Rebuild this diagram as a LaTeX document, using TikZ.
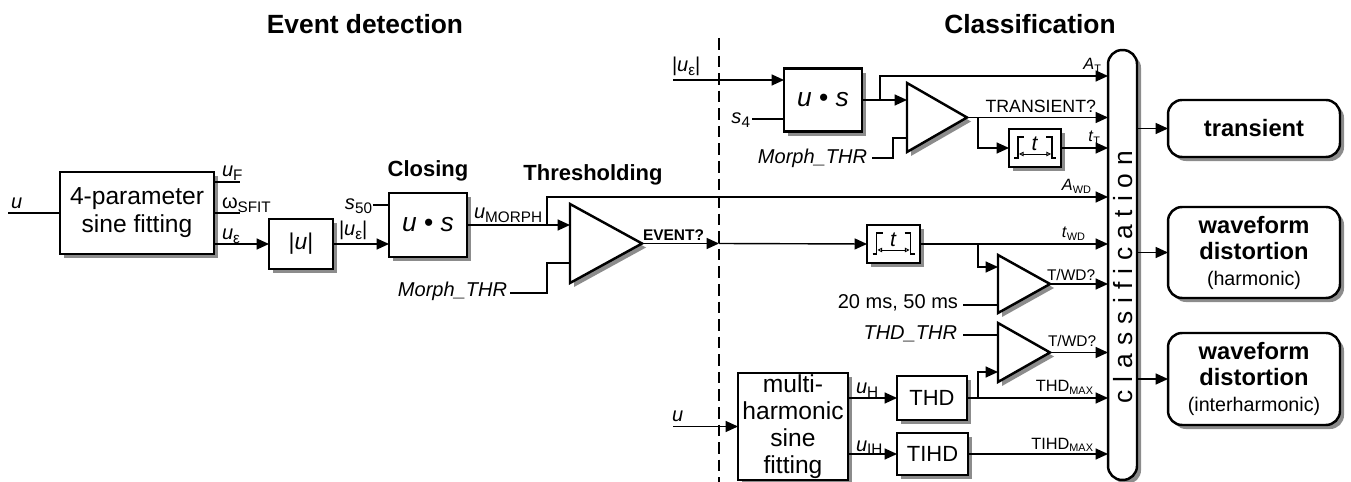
\documentclass[tikz,border=0pt]{standalone}
\usepackage{fontspec}
\setmainfont{Liberation Sans}
\newfontfamily\spacedfont[LetterSpace=30]{Liberation Sans}
\usetikzlibrary{arrows.meta,shadows,calc}
\newcommand\fs[2]{\fontsize{#1}{#2}\selectfont}
\newcommand\lsub[1]{\raisebox{-1.8pt}{\fontsize{8.7pt}{9pt}\selectfont #1}}
\newcommand\ssub[1]{\raisebox{-1.3pt}{\fontsize{6.2pt}{7pt}\selectfont #1}}
\newcommand\amp[5]{%
  \begin{scope}[shift={(4,4)}]
    \fill[black!45] (#2,#3) -- (#2,#4) -- (#5,{(#3+#4)/2}) -- cycle;
  \end{scope}
  \draw[line width=1.4pt, fill=white, line join=miter] (#2,#3) -- (#2,#4) -- (#5,{(#3+#4)/2}) -- cycle;
  \coordinate (#1out) at (#5,{(#3+#4)/2});
}
\newcommand\timerglyph[1]{%
  \begin{scope}[shift={(#1.center)}]
    \draw[line width=0.6pt] (-21,10) -- (-17,10) -- (-17,-11) -- (-11,-11);
    \draw[line width=0.6pt] (11,-11) -- (17,-11) -- (17,10) -- (21,10);
    \draw[line width=0.5pt, {Triangle[open,length=2.6pt,width=2.6pt]}-{Triangle[open,length=2.6pt,width=2.6pt]}] (-16,6) -- (16,6);
    \node[font=\fs{12pt}{13pt}] at (0,-4) {\textit{t}};
  \end{scope}
}
\tikzset{
  every node/.style={inner sep=0pt, outer sep=0pt},
  conn/.style={line width=0.8pt},
  arr/.style={conn, -{Triangle[length=7pt,width=6.2pt]}},
  blk/.style={draw, line width=1.4pt, fill=white, align=center,
    drop shadow={shadow xshift=2.3pt, shadow yshift=-2.3pt, fill=black!45, opacity=1}},
  rblk/.style={blk, rounded corners=8pt},
  lbl/.style={font=\fs{11.4pt}{13pt}},
  slbl/.style={font=\fs{9.3pt}{10pt}},
  evlbl/.style={font=\bfseries\fs{8.8pt}{10pt}},
  twlbl/.style={font=\fs{8.8pt}{10pt}},
  trlbl/.style={font=\fs{10.1pt}{11pt}},
  bigtitle/.style={font=\bfseries\fs{15pt}{17pt}},
  midtitle/.style={font=\bfseries\fs{12.5pt}{14pt}},
}
\begin{document}
\begin{tikzpicture}[x=0.02cm,y=-0.02cm]
\useasboundingbox (0,0) rectangle (1351,482);

% titles
\node[bigtitle, anchor=base] at (365,34) {Event detection};
\node[bigtitle, anchor=base] at (1030,34) {Classification};
\node[midtitle, anchor=base] at (428,177) {Closing};
\node[midtitle, anchor=base] at (593,181) {Thresholding};

% dashed separator
\draw[conn, dash pattern=on 6.6pt off 3.4pt] (719,38) -- (719,482);

% blocks
\node[blk, minimum width=3.08cm, minimum height=1.64cm, font=\fs{14pt}{16pt}] (fit4) at (137,213) {4-parameter\\sine fitting};
\node[blk, minimum width=1.28cm, minimum height=1.0cm, font=\fs{13pt}{15pt}] (absu) at (301,244) {|\textit{u}|};
\node[blk, minimum width=1.56cm, minimum height=1.28cm, font=\fs{15pt}{17pt}] (close) at (428,225) {\textit{u} • \textit{s}};
\node[blk, minimum width=1.56cm, minimum height=1.26cm, font=\fs{15pt}{17pt}] (close2) at (823,100) {\textit{u} • \textit{s}};
\node[blk, minimum width=1.04cm, minimum height=0.76cm] (timer1) at (1035,148) {};
\node[blk, minimum width=1.06cm, minimum height=0.76cm] (timer2) at (893.5,244) {};
\timerglyph{timer1}
\timerglyph{timer2}
\node[blk, minimum width=2.2cm, minimum height=2.14cm, font=\fs{14pt}{15.4pt}] (multi) at (793,426.5) {multi-\\harmonic\\sine\\fitting};
\node[blk, minimum width=1.4cm, minimum height=0.88cm, font=\fs{12.5pt}{14pt}] (thd) at (932,398) {THD};
\node[blk, minimum width=1.42cm, minimum height=0.84cm, font=\fs{12.5pt}{14pt}] (tihd) at (932.5,454) {TIHD};
\node[rblk, minimum width=0.58cm, minimum height=8.6cm] (bar) at (1122.5,265) {};
\node[rotate=90, font=\spacedfont\fs{15pt}{17pt}] at (1123,277) {classification};
\node[rblk, minimum width=3.44cm, minimum height=1.14cm, font=\bfseries\fs{13.5pt}{15pt}] (out1) at (1254,128.5) {transient};
\node[rblk, minimum width=3.44cm, minimum height=1.82cm, font=\bfseries\fs{13.5pt}{14.8pt}] (out2) at (1254,252.5) {waveform\\distortion\\{\normalfont\fs{11.2pt}{14.8pt}(harmonic)}};
\node[rblk, minimum width=3.44cm, minimum height=1.84cm, font=\bfseries\fs{13.5pt}{14.8pt}] (out3) at (1254,379) {waveform\\distortion\\{\normalfont\fs{11.2pt}{14.8pt}(interharmonic)}};

% amplifiers (comparators)
\amp{ta}{570}{204}{283}{642}
\amp{tb}{907}{83}{152}{967}
\amp{tc}{998}{255}{313}{1050}
\amp{td}{998}{323}{382}{1050}

% ---- event detection part
\coordinate (uin) at (8,213);
\draw[conn] (uin) -- (fit4.west);
\node[lbl, anchor=base west] at (11,209) {\textit{u}};
\coordinate (uFe) at (240,182);
\draw[conn] (fit4.east |- uFe) -- (uFe);
\node[lbl, anchor=base west] at (222,177) {\textit{u}\lsub{F}};
\coordinate (wse) at (240,213);
\draw[conn] (fit4.east |- wse) -- (wse);
\node[lbl, anchor=base west] at (222,209) {ω\lsub{SFIT}};
\draw[arr] (fit4.east |- absu.west) -- (absu.west);
\node[lbl, anchor=base west] at (222,240) {\textit{u}\lsub{ε}};
\draw[arr] (absu.east) -- (close.west |- absu.east);
\node[lbl, anchor=base west] at (339,236) {|\textit{u}\lsub{ε}|};
\coordinate (s50) at (373,205);
\draw[conn] (s50) -- (s50 -| close.west);
\node[lbl, anchor=base east] at (372,210) {\textit{s}\lsub{50}};
\coordinate (ta1) at (570,225);
\draw[arr] (close.east) -- (ta1);
\node[lbl, anchor=base west] at (474,219) {\textit{u}\lsub{MORPH}};
\coordinate (brA) at (547,225);
\coordinate (awd) at (547,197);
\draw[arr] (brA) -- (awd) -- (awd -| bar.west);
\node[slbl, anchor=base east] at (1091,191) {\textit{A}\ssub{WD}};
\coordinate (m1) at (510,293);
\coordinate (ta2) at (570,263);
\draw[conn] (m1) -| (547,263) -- (ta2);
\node[lbl, anchor=base east] at (507,297) {\textit{Morph\_THR}};
\coordinate (dp) at (719,243.5);
\draw[arr] (taout) -- (dp);
\draw[arr] (dp) -- (timer2.west);
\node[evlbl, anchor=base west] at (643,241) {EVENT?};

% ---- transient branch
\coordinate (ueps) at (673,80);
\draw[arr] (ueps) -- (ueps -| close2.west);
\node[lbl, anchor=base west] at (672,72) {|\textit{u}\lsub{ε}|};
\coordinate (s4) at (752,119);
\draw[conn] (s4) -- (s4 -| close2.west);
\node[lbl, anchor=base east] at (750,124) {\textit{s}\lsub{4}};
\coordinate (tb1) at (907,100);
\draw[arr] (close2.east) -- (tb1);
\coordinate (brT) at (880,100);
\coordinate (at) at (880,76);
\draw[arr] (brT) -- (at) -- (at -| bar.west);
\node[slbl, anchor=base east] at (1101,70) {\textit{A}\ssub{T}};
\coordinate (m2) at (872,158);
\coordinate (tb2) at (907,138);
\draw[conn] (m2) -| (893,138) -- (tb2);
\node[lbl, anchor=base east] at (867,164) {\textit{Morph\_THR}};
\draw[arr] (tbout) -- (tbout -| bar.west);
\node[trlbl, anchor=base east] at (1096,113) {TRANSIENT?};
\coordinate (brTT) at (978,117.5);
\draw[arr] (brTT) |- (timer1.west);
\draw[arr] (timer1.east) -- (timer1.east -| bar.west);
\node[slbl, anchor=base east] at (1100,142) {\textit{t}\ssub{T}};

% ---- waveform distortion branch
\draw[arr] (timer2.east) -- (timer2.east -| bar.west);
\node[slbl, anchor=base east] at (1085,238) {\textit{t}\ssub{WD}};
\coordinate (brW) at (978,244);
\coordinate (tc1) at (998,267);
\draw[arr] (brW) |- (tc1);
\coordinate (ms) at (963,305);
\draw[conn] (ms) -- (ms -| tc1);
\node[lbl, anchor=base east] at (958,309) {20 ms, 50 ms};
\draw[arr] (tcout) -- (tcout -| bar.west);
\node[twlbl, anchor=base west] at (1047,281) {T/WD?};
\coordinate (thdthr) at (963,335);
\draw[conn] (thdthr) -- (thdthr -| tc1);
\node[lbl, anchor=base east] at (957,340) {\textit{THD\_THR}};
\draw[arr] (tdout) -- (tdout -| bar.west);
\node[twlbl, anchor=base west] at (1048,347) {T/WD?};

% ---- harmonic part
\coordinate (ub) at (673,426.5);
\draw[arr] (ub) -- (multi.west);
\node[lbl, anchor=base west] at (672,421) {\textit{u}};
\draw[arr] (multi.east |- thd.west) -- (thd.west);
\node[lbl, anchor=base west] at (856,394) {\textit{u}\lsub{H}};
\draw[arr] (thd.east) -- (thd.east -| bar.west);
\coordinate (brH) at (978,398);
\coordinate (td2) at (998,372);
\draw[arr] (brH) |- (td2);
\node[slbl, anchor=base east] at (1093,392) {THD\ssub{MAX}};
\draw[arr] (multi.east |- tihd.west) -- (tihd.west);
\node[lbl, anchor=base west] at (856,451) {\textit{u}\lsub{IH}};
\draw[arr] (tihd.east) -- (tihd.east -| bar.west);
\node[slbl, anchor=base east] at (1093,449) {TIHD\ssub{MAX}};

% ---- outputs
\draw[arr] (bar.east |- out1.west) -- (out1.west);
\draw[arr] (bar.east |- out2.west) -- (out2.west);
\draw[arr] (bar.east |- out3.west) -- (out3.west);
\end{tikzpicture}
\end{document}
